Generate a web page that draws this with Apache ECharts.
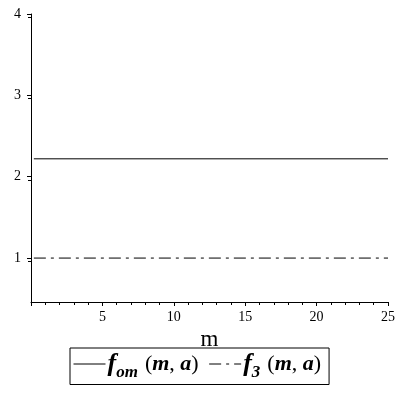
<!DOCTYPE html>
<html>
<head>
<meta charset="utf-8">
<script src="https://cdn.jsdelivr.net/npm/echarts@6/dist/echarts.min.js"></script>
<style>
  html, body { margin: 0; padding: 0; background: #fff; }
  #chart { width: 400px; height: 400px; }
</style>
</head>
<body>
<div id="chart"></div>
<script>
// data
const mValues = [0.2, 25]
const fomValues = [2.22, 2.22]
const f3Values = [1, 1]
const xTicks = [5, 10, 15, 20, 25]
const yTicks = [1, 2, 3, 4]

const chart = echarts.init(document.getElementById('chart'))
const serif = '"Liberation Serif", "DejaVu Serif", serif'

const rich = {
  f: { fontFamily: serif, fontSize: 26, fontWeight: 'bold', fontStyle: 'italic', color: '#000' },
  sub: { fontFamily: serif, fontSize: 17, fontWeight: 'bold', fontStyle: 'italic', color: '#000', padding: [18, 0, 0, 0] },
  p: { fontFamily: serif, fontSize: 22, color: '#000', padding: [0, 0, 0, 7] },
  v: { fontFamily: serif, fontSize: 22, fontWeight: 'bold', fontStyle: 'italic', color: '#000' },
  q: { fontFamily: serif, fontSize: 22, color: '#000' },
}

const option = {
  animation: false,
  grid: { left: 31, right: 12, top: 14, bottom: 98 },
  xAxis: {
    type: 'value',
    min: 0,
    max: 25,
    interval: 5,
    name: 'm',
    nameLocation: 'middle',
    nameGap: 26,
    nameTextStyle: { fontFamily: serif, fontSize: 23, color: '#000' },
    axisLine: { onZero: false, lineStyle: { color: '#000', width: 1 } },
    axisTick: { length: 4, lineStyle: { color: '#000' } },
    minorTick: { show: true, splitNumber: 5, length: 3, lineStyle: { color: '#000' } },
    splitLine: { show: false },
    axisLabel: {
      fontFamily: serif, fontSize: 14, color: '#000', margin: 8,
      formatter: v => (xTicks.includes(v) ? String(v) : ''),
    },
  },
  yAxis: {
    type: 'value',
    min: 0.46,
    max: 4,
    interval: 1,
    axisLine: { show: true, onZero: false, lineStyle: { color: '#000', width: 1 } },
    axisTick: { show: true, length: 4, lineStyle: { color: '#000' }, customValues: yTicks },
    minorTick: { show: true, splitNumber: 2, length: 3, lineStyle: { color: '#000' } },
    splitLine: { show: false },
    axisLabel: {
      fontFamily: serif, fontSize: 14, color: '#000', margin: 10,
      customValues: yTicks,
    },
  },
  legend: {
    left: 70,
    top: 348,
    width: 262,
    padding: [3, 8, 3, 3],
    borderColor: '#000',
    borderWidth: 1,
    itemGap: 10,
    itemWidth: 32,
    itemHeight: 10,
    itemStyle: { opacity: 0 },
    lineStyle: { width: 1 },
    data: ['fom', 'f3'],
    formatter: name => name === 'fom'
      ? '{f|f}{sub|om}{p|(}{v|m}{q|, }{v|a}{q|)}'
      : '{f|f}{sub|3}{p|(}{v|m}{q|, }{v|a}{q|)}',
    textStyle: { rich: rich, padding: [0, 0, 0, -3] },
  },
  series: [
    {
      name: 'fom',
      type: 'line',
      data: mValues.map((m, i) => [m, fomValues[i]]),
      symbol: 'none',
      itemStyle: { color: '#000' },
      lineStyle: { color: '#000', width: 1, type: 'solid' },
    },
    {
      name: 'f3',
      type: 'line',
      data: mValues.map((m, i) => [m, f3Values[i]]),
      symbol: 'none',
      itemStyle: { color: '#000' },
      lineStyle: { color: '#000', width: 1, type: [12, 5, 3, 5] },
    },
  ],
}

chart.setOption(option)
</script>
</body>
</html>
